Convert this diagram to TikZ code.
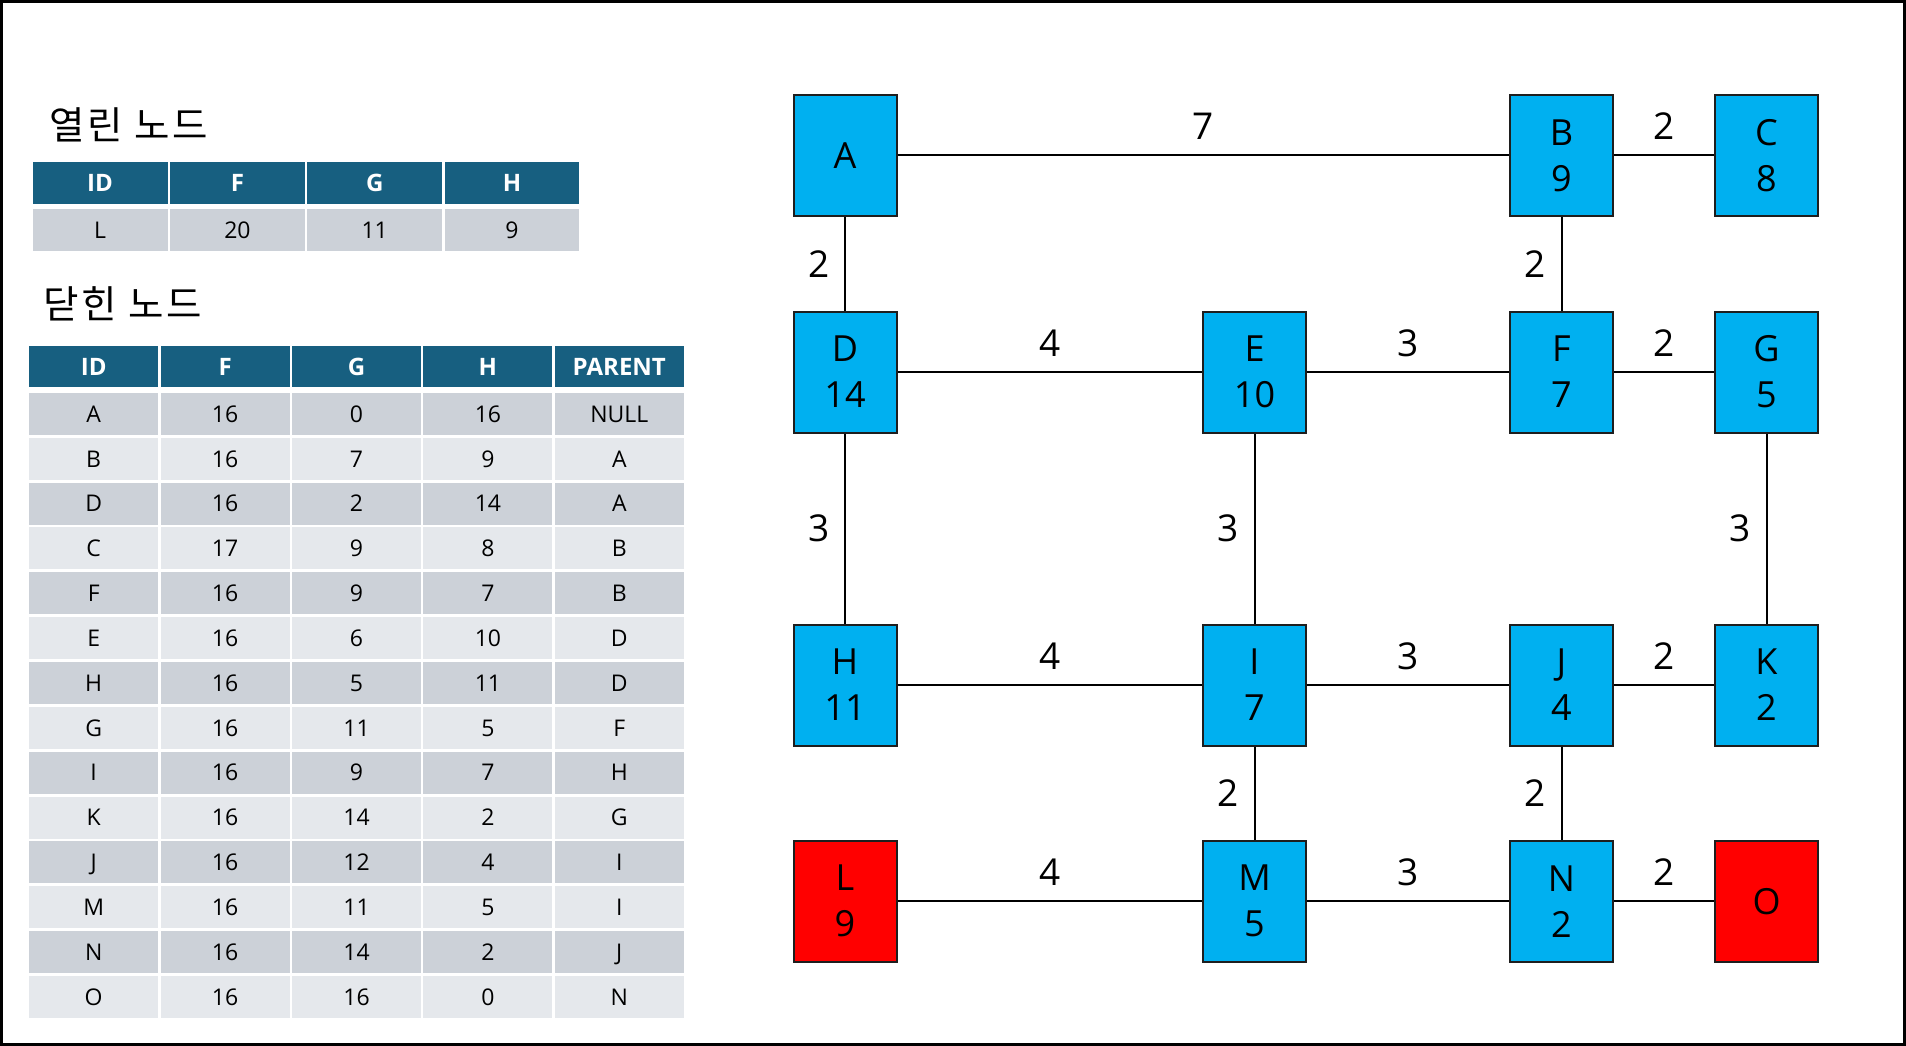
\documentclass[tikz,border=0pt]{standalone}
\usepackage{fontspec}
\setmainfont{Open Sans}
\newfontfamily\krfont[LetterSpace=7]{Noto Sans CJK KR}
\definecolor{nodeblue}{HTML}{00B0F0}
\definecolor{nodered}{HTML}{FF0000}
\definecolor{hdrblue}{HTML}{175F80}
\definecolor{rowdark}{HTML}{CCD1D8}
\definecolor{rowlight}{HTML}{E5E8EC}
\definecolor{edgegray}{HTML}{1E1E1E}
\tikzset{
 gnode/.style={rectangle, draw=edgegray, line width=2pt, fill=nodeblue, minimum width=103pt, minimum height=121pt, inner sep=0pt, align=center, font=\fontsize{36}{46}\selectfont},
 goal/.style={gnode, fill=nodered},
 conn/.style={line width=2pt, draw=black},
 wlab/.style={font=\fontsize{37}{44}\selectfont, inner sep=0pt},
 hcell/.style={rectangle, fill=hdrblue, text=white, font=\fontsize{24}{28}\selectfont\bfseries, inner sep=0pt, anchor=north west, text height=17pt, text depth=0pt},
 dcell/.style={rectangle, inner sep=0pt, anchor=north west, font=\fontsize{23}{28}\selectfont, text height=16.5pt, text depth=0pt},
 titlelab/.style={font=\krfont\fontsize{38.5}{46}\selectfont, anchor=west, inner sep=0pt}
}
\begin{document}
\begin{tikzpicture}[x=1pt,y=-1pt]
\useasboundingbox (0,0) rectangle (1906,1046);
\fill[white] (0,0) rectangle (1906,1046);
\draw[line width=3pt] (1.5,1.5) rectangle (1904.5,1044.5);

% titles
\node[titlelab] (title1) at (49,125.2) {열린 노드};
\node[titlelab] (title2) at (43.5,303.8) {닫힌 노드};

% open-node table
\foreach \txt [count=\j from 0] in {ID,F,G,H}{
  \node[hcell, minimum width=134.8pt, minimum height=41.5pt] (o-h-\j) at ({32.5+\j*137.3},162) {\txt};
}
\foreach \txt [count=\j from 0] in {L,20,11,9}{
  \node[dcell, fill=rowdark, minimum width=134.8pt, minimum height=41.5pt] (o-r-\j) at ({32.5+\j*137.3},209) {\txt};
}

% closed-node table
\foreach \txt [count=\j from 0] in {ID,F,G,H,PARENT}{
  \node[hcell, minimum width=129pt, minimum height=41pt] (c-h-\j) at ({29+\j*131.4},346) {\txt};
}
\foreach \id/\f/\g/\h/\p/\col [count=\i from 0] in {
  A/16/0/16/NULL/rowdark, B/16/7/9/A/rowlight, D/16/2/14/A/rowdark,
  C/17/9/8/B/rowlight, F/16/9/7/B/rowdark, E/16/6/10/D/rowlight,
  H/16/5/11/D/rowdark, G/16/11/5/F/rowlight, I/16/9/7/H/rowdark,
  K/16/14/2/G/rowlight, J/16/12/4/I/rowdark, M/16/11/5/I/rowlight,
  N/16/14/2/J/rowdark, O/16/16/0/N/rowlight}{
  \foreach \txt [count=\j from 0] in {\id,\f,\g,\h,\p}{
    \node[dcell, fill=\col, minimum width=129pt, minimum height=42pt] (c-\i-\j) at ({29+\j*131.4},{392.7+\i*44.85}) {\txt};
  }
}

% graph nodes
\node[gnode] (A) at (845,155.5) {A};
\node[gnode] (B) at (1561.5,155.5) {B\\9};
\node[gnode] (C) at (1766.5,155.5) {C\\8};
\node[gnode] (D) at (845,372) {D\\14};
\node[gnode] (E) at (1254.5,372) {E\\10};
\node[gnode] (F) at (1561.5,372) {F\\7};
\node[gnode] (G) at (1766.5,372) {G\\5};
\node[gnode] (H) at (845,685) {H\\11};
\node[gnode] (I) at (1254.5,685) {I\\7};
\node[gnode] (J) at (1561.5,685) {J\\4};
\node[gnode] (K) at (1766.5,685) {K\\2};
\node[goal] (L) at (845,901.2) {L\\9};
\node[gnode] (M) at (1254.5,901.2) {M\\5};
\node[gnode] (N) at (1561.5,901.2) {N\\2};
\node[goal] (O) at (1766.5,901.2) {O};

% connectors
\draw[conn] (A) -- node[wlab, yshift=29pt]{7} (B);
\draw[conn] (B) -- node[wlab, yshift=29pt]{2} (C);
\draw[conn] (A) -- node[wlab, xshift=-26pt]{2} (D);
\draw[conn] (B) -- node[wlab, xshift=-26pt]{2} (F);
\draw[conn] (D) -- node[wlab, yshift=29pt]{4} (E);
\draw[conn] (E) -- node[wlab, yshift=29pt]{3} (F);
\draw[conn] (F) -- node[wlab, yshift=29pt]{2} (G);
\draw[conn] (D) -- node[wlab, xshift=-26pt]{3} (H);
\draw[conn] (E) -- node[wlab, xshift=-26pt]{3} (I);
\draw[conn] (G) -- node[wlab, xshift=-26pt]{3} (K);
\draw[conn] (H) -- node[wlab, yshift=29pt]{4} (I);
\draw[conn] (I) -- node[wlab, yshift=29pt]{3} (J);
\draw[conn] (J) -- node[wlab, yshift=29pt]{2} (K);
\draw[conn] (I) -- node[wlab, xshift=-26pt]{2} (M);
\draw[conn] (J) -- node[wlab, xshift=-26pt]{2} (N);
\draw[conn] (L) -- node[wlab, yshift=29pt]{4} (M);
\draw[conn] (M) -- node[wlab, yshift=29pt]{3} (N);
\draw[conn] (N) -- node[wlab, yshift=29pt]{2} (O);
\end{tikzpicture}
\end{document}
